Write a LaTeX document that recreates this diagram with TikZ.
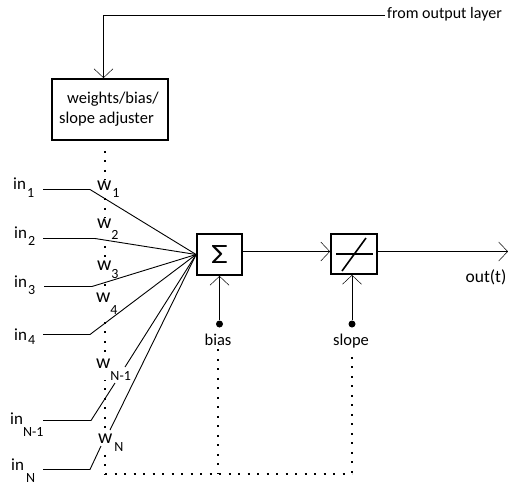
\documentclass[tikz,border=0pt]{standalone}
\usepackage{fontspec}
\setmainfont{Carlito}
\usetikzlibrary{arrows.meta}
\tikzset{
  wire/.style={line width=0.9pt},
  arr/.style={wire, -{Straight Barb[length=9pt,width=19pt,line width=0.5pt]}},
  dots/.style={line width=2pt, dash pattern=on 2pt off 7.5pt},
  block/.style={draw, line width=1.8pt, fill=white, inner sep=0pt},
  txt/.style={inner sep=0pt, font=\fontsize{16.5}{18}\selectfont},
  inl/.style={anchor=base west, inner sep=0pt, font=\fontsize{17}{17}\selectfont},
  wl/.style={anchor=base west, inner sep=0pt, fill=white, font=\fontsize{20}{20}\selectfont},
  bdot/.style={circle, fill, inner sep=0pt, minimum size=7pt}
}
\newcommand{\subl}[3]{\kern#1pt\raisebox{-#2pt}{\fontsize{14}{14}\selectfont #3}}
\begin{document}
\begin{tikzpicture}[x=1pt,y=-1pt]
\useasboundingbox (0,0) rectangle (508,485);
\coordinate (fb) at (103.5,15.5);
\coordinate (dt) at (105,474);
\coordinate (lvl) at (0,251.5);
\coordinate (out) at (508,251.5);
\coordinate (n1) at (90,189.5);
\coordinate (n2) at (95,238.5);
\coordinate (n3) at (92,286.5);
\coordinate (n4) at (90,334.5);
\coordinate (n5) at (91,420.5);
\coordinate (n6) at (90,469.5);
\coordinate (g5a) at (115,383);
\coordinate (g5b) at (125,367);
\coordinate (g6a) at (101,446);
\coordinate (g6b) at (110,430);
\node[block, minimum width=116pt, minimum height=61pt] (adj) at (110,109.5) {};
\node[txt, anchor=base west] (adj1) at (67,103) {weights/bias/};
\node[txt, anchor=base west] (adj2) at (59,123) {slope\kern4pt adjuster};
\node[txt, anchor=west, font=\fontsize{16}{18}\selectfont] (layer) at (385,14) {\kern2pt from output layer};
\draw[arr] (layer.west |- fb) -- (fb) -- (fb |- adj.north);
\node[txt, anchor=base] (bias) at (218,345) {bias};
\node[txt, anchor=base] (slope) at (351,345) {slope};
\node[bdot] (bdot1) at (219.5,324) {};
\node[bdot] (bdot2) at (352,324) {};
% dotted control lines
\draw[dots, shorten <=10pt] (adj.south -| dt) -- (dt);
\draw[dots] (dt) -- (dt -| bdot2);
\draw[dots, shorten <=4pt] (bias.south) -- (bias.south |- dt);
\draw[dots, shorten <=9pt] (bdot2 |- slope.south) -- (bdot2 |- dt);
\node[wl] (w1) at (97,190) {w\subl{1}{7}{1}};
\node[wl] (w2) at (97,228) {w\subl{0}{11}{2}};
\node[wl] (w3) at (97,270) {w\subl{0}{8}{3}};
\node[wl] (w4) at (96,302) {w\subl{0}{12}{4}};
\node[wl] (w5) at (96,368) {w\subl{0}{12}{N-1}};
\node[wl] (w6) at (98,443) {w\subl{2}{8}{N}};
\node[inl] (in1) at (13,189) {in\subl{1}{8}{1}};
\node[inl] (in2) at (14,238) {in\subl{1}{7}{2}};
\node[inl] (in3) at (14,287) {in\subl{1}{7}{3}};
\node[inl] (in4) at (14,340) {in\subl{1}{4}{4}};
\node[inl] (in5) at (10,424) {in\subl{0}{12}{N-1}};
\node[inl] (in6) at (11,470) {in\subl{2}{12}{N}};
\node[block, minimum width=45pt, minimum height=41pt, font=\fontsize{28}{28}\selectfont] (sum) at (219.5,254.5) {\scalebox{1.3}[1]{Σ}};
\node[block, minimum width=46pt, minimum height=40pt] (act) at (354,254) {};
\draw[line width=1.6pt] (336,254) -- (373,254);
\draw[line width=1.6pt] (342,271) -- (366,238);
\coordinate (in1e) at (43,189.5);
\coordinate (in2e) at (43,238.5);
\coordinate (in3e) at (44,286.5);
\coordinate (in4e) at (43,334.5);
\coordinate (in5e) at (43,420.5);
\coordinate (in6e) at (43,469.5);
\draw[wire] (in1e) -- (n1) -- (sum.west);
\draw[wire] (in2e) -- (n2) -- (sum.west);
\draw[wire] (in3e) -- (n3) -- (sum.west);
\draw[wire] (in4e) -- (n4) -- (sum.west);
\draw[wire] (in5e) -- (n5) -- (g5a);
\draw[wire] (g5b) -- (sum.west);
\draw[wire] (in6e) -- (n6) -- (g6a);
\draw[wire] (g6b) -- (sum.west);
\draw[arr] (sum.east |- lvl) -- (act.west |- lvl);
\draw[arr] (act.east |- lvl) -- (out);
\draw[arr] (bdot1) -- (sum.south);
\draw[arr] (bdot2) -- (bdot2 |- act.south);
\node[txt, anchor=base, font=\fontsize{17.5}{18}\selectfont] (outt) at (486,282) {out(t)};
\end{tikzpicture}
\end{document}
